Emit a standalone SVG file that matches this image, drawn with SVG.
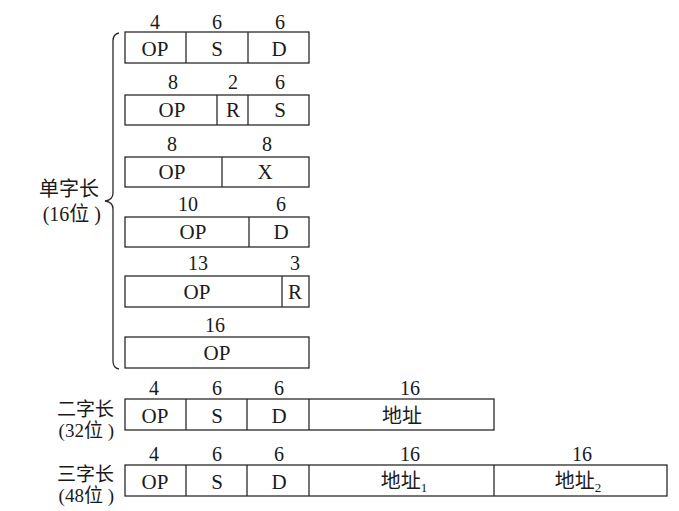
<svg xmlns="http://www.w3.org/2000/svg" width="679" height="511" viewBox="0 0 679 511">
<style>
.b{fill:#fff;stroke:#2a2a2a;stroke-width:1.3}
.l{stroke:#2a2a2a;stroke-width:1.3;fill:none}
text{font-family:'Liberation Serif','Times New Roman','DejaVu Serif','Noto Sans CJK SC',serif;font-size:20px;fill:#1a1a1a;text-anchor:middle}
.t{font-size:21px}
.lab{text-anchor:end;font-size:20px}
.lab2{text-anchor:end;font-size:19px}
.sub{font-size:13px}
</style>
<rect width="679" height="511" fill="#fff"/>
<g id="brace"><path class="l" d="M119,33 Q113,34 113,41 L113,193 Q113,200 105,201 Q113,202 113,209 L113,361 Q113,368 119,369"/></g>
<g id="label-single"><text class="lab" x="99" y="196">单字长</text><text class="lab" x="101" y="221">(16位 )</text></g>
<g id="fmt1">
<rect class="b" x="125" y="32" width="184" height="31"/>
<line class="l" x1="186" y1="32" x2="186" y2="63"/><line class="l" x1="248" y1="32" x2="248" y2="63"/>
<text x="155" y="29">4</text><text x="217" y="29">6</text><text x="280" y="29">6</text>
<text class="t" x="155" y="56">OP</text><text class="t" x="217" y="56">S</text><text class="t" x="279" y="56">D</text>
</g>
<g id="fmt2">
<rect class="b" x="125" y="95" width="184" height="30"/>
<line class="l" x1="217" y1="95" x2="217" y2="125"/><line class="l" x1="248" y1="95" x2="248" y2="125"/>
<text x="173" y="89">8</text><text x="233" y="89">2</text><text x="280" y="89">6</text>
<text class="t" x="172" y="117">OP</text><text class="t" x="233" y="117">R</text><text class="t" x="280" y="117">S</text>
</g>
<g id="fmt3">
<rect class="b" x="125" y="157" width="184" height="30"/>
<line class="l" x1="222" y1="157" x2="222" y2="187"/>
<text x="172" y="151">8</text><text x="267" y="151">8</text>
<text class="t" x="172" y="179">OP</text><text class="t" x="265" y="179">X</text>
</g>
<g id="fmt4">
<rect class="b" x="125" y="217" width="184" height="30"/>
<line class="l" x1="249" y1="217" x2="249" y2="247"/>
<text x="188" y="211">10</text><text x="281" y="211">6</text>
<text class="t" x="193" y="239">OP</text><text class="t" x="281" y="239">D</text>
</g>
<g id="fmt5">
<rect class="b" x="125" y="276" width="184" height="31"/>
<line class="l" x1="282" y1="276" x2="282" y2="307"/>
<text x="198" y="270">13</text><text x="295" y="270">3</text>
<text class="t" x="197" y="299">OP</text><text class="t" x="295" y="299">R</text>
</g>
<g id="fmt6">
<rect class="b" x="125" y="337" width="184" height="31"/>
<text x="215" y="332">16</text>
<text class="t" x="217" y="360">OP</text>
</g>
<g id="fmt-double">
<text class="lab2" x="114" y="416">二字长</text><text class="lab2" x="114" y="437">(32位 )</text>
<rect class="b" x="125" y="399" width="369" height="31"/>
<line class="l" x1="186" y1="399" x2="186" y2="430"/><line class="l" x1="247" y1="399" x2="247" y2="430"/><line class="l" x1="309" y1="399" x2="309" y2="430"/>
<text x="154" y="395">4</text><text x="217" y="395">6</text><text x="279" y="395">6</text><text x="410" y="395">16</text>
<text class="t" x="155" y="423">OP</text><text class="t" x="217" y="423">S</text><text class="t" x="279" y="423">D</text><text x="402" y="423">地址</text>
</g>
<g id="fmt-triple">
<text class="lab2" x="114" y="481">三字长</text><text class="lab2" x="114" y="502">(48位 )</text>
<rect class="b" x="125" y="465" width="542" height="31"/>
<line class="l" x1="186" y1="465" x2="186" y2="496"/><line class="l" x1="247" y1="465" x2="247" y2="496"/><line class="l" x1="309" y1="465" x2="309" y2="496"/><line class="l" x1="494" y1="465" x2="494" y2="496"/>
<text x="154" y="461">4</text><text x="217" y="461">6</text><text x="279" y="461">6</text><text x="410" y="461">16</text><text x="582" y="461">16</text>
<text class="t" x="155" y="489">OP</text><text class="t" x="217" y="489">S</text><text class="t" x="279" y="489">D</text>
<text x="404" y="488">地址<tspan class="sub" dy="4">1</tspan></text>
<text x="578" y="488">地址<tspan class="sub" dy="4">2</tspan></text>
</g>
</svg>
